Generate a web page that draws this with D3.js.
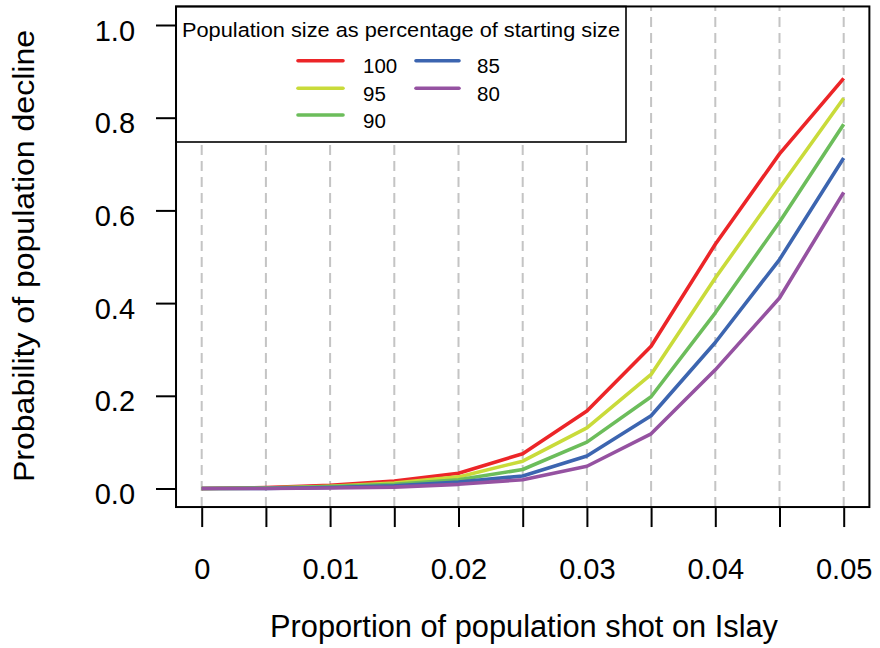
<!DOCTYPE html>
<html>
<head>
<meta charset="utf-8">
<script src="https://cdn.jsdelivr.net/npm/d3@7"></script>
<style>
  html, body { margin: 0; padding: 0; background: #fff; }
  svg { display: block; font-family: "Liberation Sans", Arial, sans-serif; }
</style>
</head>
<body>
<svg id="chart" width="880" height="648"></svg>
<script>
// Proportion shot (x) and probability of decline for each population size
const shotProportion = [0, 0.005, 0.01, 0.015, 0.02, 0.025, 0.03, 0.035, 0.04, 0.045, 0.05];
const seriesNames = ["100", "95", "90", "85", "80"];
const p100 = [0, 0.002, 0.007, 0.016, 0.033, 0.075, 0.167, 0.307, 0.527, 0.722, 0.885];
const p95  = [0, 0.001, 0.005, 0.012, 0.025, 0.059, 0.131, 0.246, 0.454, 0.649, 0.842];
const p90  = [0, 0.001, 0.004, 0.009, 0.019, 0.041, 0.100, 0.198, 0.379, 0.575, 0.786];
const p85  = [0, 0.000, 0.002, 0.006, 0.014, 0.027, 0.070, 0.157, 0.315, 0.494, 0.713];
const p80  = [0, 0.000, 0.001, 0.003, 0.009, 0.019, 0.048, 0.118, 0.256, 0.411, 0.639];
const seriesValues = [p100, p95, p90, p85, p80];
const seriesColors = ["#ec2528", "#c9db3a", "#6cbd5b", "#3c65b0", "#9552a1"];
const xTickLabels = ["0", "0.01", "0.02", "0.03", "0.04", "0.05"];
const yTicks = [0, 0.2, 0.4, 0.6, 0.8, 1.0];
const legendTitle = "Population size as percentage of starting size";
const xTitle = "Proportion of population shot on Islay";
const yTitle = "Probability of population decline";

const svg = d3.select("#chart");

const x = d3.scaleLinear().domain([0, 0.05]).range([201.7, 843.7]);
const y = d3.scaleLinear().domain([0, 1]).range([488.5, 25]);

const frameLeft = x(-0.002), frameRight = x(0.052);
const frameTop = y(1.04), frameBottom = y(-0.04);

// vertical dashed grid at each x value
svg.append("g")
  .selectAll("line")
  .data(shotProportion)
  .join("line")
  .attr("x1", d => x(d)).attr("x2", d => x(d))
  .attr("y1", frameBottom).attr("y2", frameTop)
  .attr("stroke", "#c4c4c4")
  .attr("stroke-width", 2)
  .attr("stroke-dasharray", "10,6");

// series lines
const line = d3.line()
  .x((d, i) => x(shotProportion[i]))
  .y(d => y(d));

svg.append("g")
  .selectAll("path")
  .data(seriesValues)
  .join("path")
  .attr("d", d => line(d))
  .attr("fill", "none")
  .attr("stroke", (d, i) => seriesColors[i])
  .attr("stroke-width", 3.6)
  .attr("stroke-linejoin", "round");

// legend box
const lg = svg.append("g");
lg.append("rect")
  .attr("x", frameLeft).attr("y", frameTop)
  .attr("width", 626 - frameLeft).attr("height", 142 - frameTop)
  .attr("fill", "#fff")
  .attr("stroke", "#000")
  .attr("stroke-width", 1.6);
lg.append("text")
  .attr("x", (frameLeft + 626) / 2).attr("y", 37)
  .attr("text-anchor", "middle")
  .attr("font-size", 20.5)
  .attr("textLength", 438)
  .attr("lengthAdjust", "spacingAndGlyphs")
  .attr("fill", "#000")
  .text(legendTitle);

const legendRows = [60.7, 88.2, 115];
const legendCols = [{x0: 298, x1: 343, tx: 363}, {x0: 416, x1: 459, tx: 477}];
seriesNames.forEach((name, i) => {
  const col = legendCols[i < 3 ? 0 : 1];
  const row = legendRows[i < 3 ? i : i - 3];
  lg.append("line")
    .attr("x1", col.x0).attr("x2", col.x1)
    .attr("y1", row).attr("y2", row)
    .attr("stroke", seriesColors[i])
    .attr("stroke-width", 3.6)
    .attr("stroke-linecap", "round");
  lg.append("text")
    .attr("x", col.tx).attr("y", row + 12.5)
    .attr("font-size", 20.5)
    .attr("fill", "#000")
    .text(name);
});

// plot frame
svg.append("rect")
  .attr("x", frameLeft).attr("y", frameTop)
  .attr("width", frameRight - frameLeft).attr("height", frameBottom - frameTop)
  .attr("fill", "none")
  .attr("stroke", "#000")
  .attr("stroke-width", 2);

// x axis
const xAxis = d3.axisBottom(x)
  .tickValues(shotProportion)
  .tickSize(19)
  .tickSizeOuter(0)
  .tickFormat((d, i) => (i % 2 === 0 ? xTickLabels[i / 2] : ""));
const gx = svg.append("g")
  .attr("transform", `translate(0,${frameBottom + 1})`)
  .call(xAxis);
gx.select(".domain").remove();
gx.selectAll(".tick line").attr("stroke", "#000").attr("stroke-width", 2);
gx.selectAll(".tick text")
  .attr("y", 71).attr("dy", null)
  .attr("font-size", 29)
  .attr("font-family", "Liberation Sans, Arial, sans-serif")
  .attr("fill", "#000");

// y axis
const yAxis = d3.axisLeft(y)
  .tickValues(yTicks)
  .tickSize(20)
  .tickSizeOuter(0)
  .tickFormat(d3.format(".1f"));
const gy = svg.append("g")
  .attr("transform", `translate(${frameLeft},0)`)
  .call(yAxis);
gy.select(".domain").remove();
gy.selectAll(".tick line").attr("stroke", "#000").attr("stroke-width", 2);
gy.selectAll(".tick text")
  .attr("x", -41).attr("dy", null).attr("y", 15)
  .attr("font-size", 29)
  .attr("font-family", "Liberation Sans, Arial, sans-serif")
  .attr("fill", "#000");

// axis titles
svg.append("text")
  .attr("x", 524).attr("y", 637)
  .attr("text-anchor", "middle")
  .attr("font-size", 31)
  .attr("textLength", 508)
  .attr("lengthAdjust", "spacingAndGlyphs")
  .attr("fill", "#000")
  .text(xTitle);

svg.append("text")
  .attr("transform", "translate(34,256) rotate(-90)")
  .attr("text-anchor", "middle")
  .attr("font-size", 30)
  .attr("textLength", 452)
  .attr("lengthAdjust", "spacingAndGlyphs")
  .attr("fill", "#000")
  .text(yTitle);
</script>
</body>
</html>
